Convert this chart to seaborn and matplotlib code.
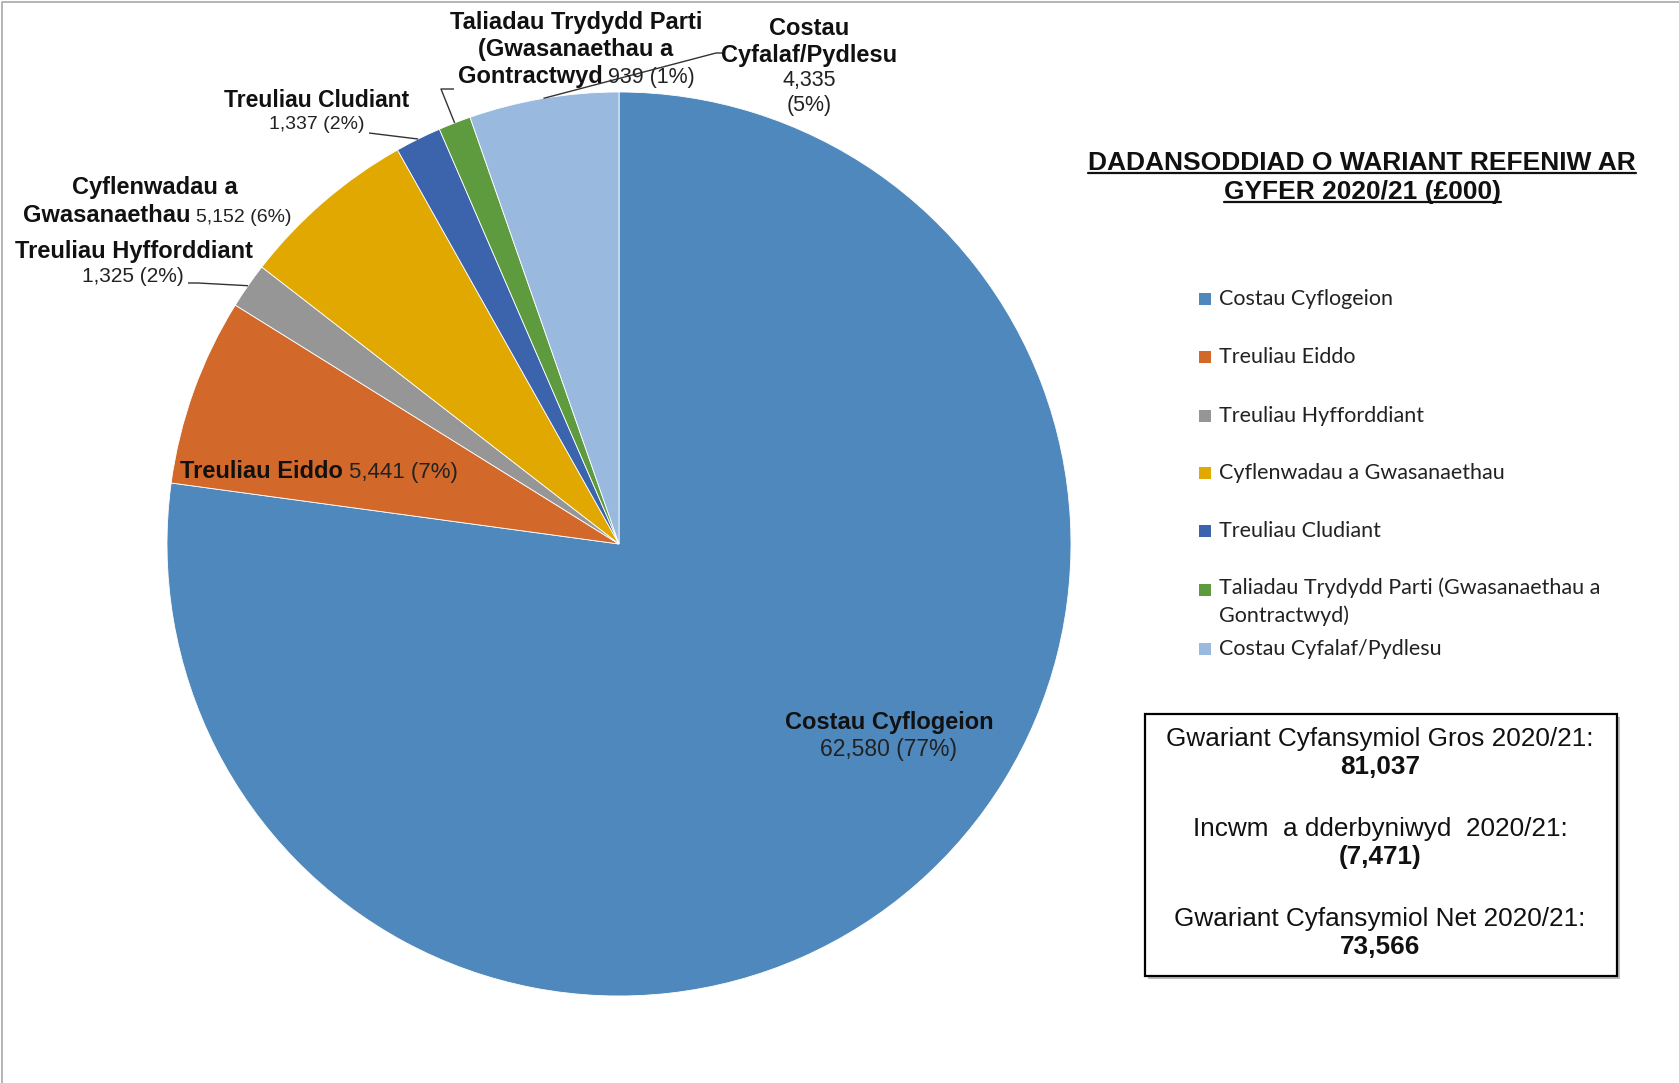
import matplotlib
matplotlib.use("Agg")
import matplotlib.pyplot as plt
import seaborn as sns
import numpy as np
from matplotlib.patches import Rectangle

# Revenue expenditure 2020/21 (£000)
categories = ["Costau Cyflogeion", "Treuliau Eiddo", "Treuliau Hyfforddiant",
              "Cyflenwadau a Gwasanaethau", "Treuliau Cludiant",
              "Taliadau Trydydd Parti (Gwasanaethau a Gontractwyd)",
              "Costau Cyfalaf/Pydlesu"]
values = [62580, 5441, 1325, 5152, 1337, 939, 4335]
colors = ["#4F88BD", "#D2692B", "#969696", "#E0A800", "#3B64AD", "#5E9B3E", "#99B9DF"]
legend_labels = ["Costau Cyflogeion", "Treuliau Eiddo", "Treuliau Hyfforddiant",
                 "Cyflenwadau a Gwasanaethau", "Treuliau Cludiant",
                 "Taliadau Trydydd Parti (Gwasanaethau a\nGontractwyd)",
                 "Costau Cyfalaf/Pydlesu"]
title_lines = ["DADANSODDIAD O WARIANT REFENIW AR", "GYFER 2020/21 (£000)"]
gross_total = 81037
income_total = 7471
net_total = 73566

sns.set_theme(style="white")
plt.rcParams["font.family"] = ["Liberation Sans", "DejaVu Sans"]

W, H = 1679, 1083
CX, CY, R = 619, 544, 452

fig = plt.figure(figsize=(W / 100, H / 100), dpi=100)
fig.patch.set_facecolor("white")

ax = fig.add_axes([(CX - R) / W, 1 - (CY + R) / H, 2 * R / W, 2 * R / H])
wedges, _ = ax.pie(values, colors=colors, startangle=90, counterclock=False,
                   wedgeprops=dict(edgecolor="white", linewidth=0.6))
ax.set_xlim(-1, 1)
ax.set_ylim(-1, 1)
ax.set_aspect("equal")

# overlay axes in pixel coordinates for labels, legend and box
ov = fig.add_axes([0, 0, 1, 1])
ov.set_xlim(0, W)
ov.set_ylim(H, 0)
ov.axis("off")
ov.patch.set_alpha(0)

total = sum(values)
nums = [f"{v:,}" for v in values]
pcts = [f"({round(100 * v / total)}%)" for v in values]


def anchor(i, r=1.0):
    w = wedges[i]
    a = np.deg2rad((w.theta1 + w.theta2) / 2)
    return CX + R * r * np.cos(a), CY - R * r * np.sin(a)


def bold(x, y, s, size=17, ha="center"):
    ov.text(x, y, s, fontsize=size, fontweight="bold", ha=ha, va="baseline", color="#111111")


def reg(x, y, s, size=15, ha="center"):
    ov.text(x, y, s, fontsize=size, ha=ha, va="baseline", color="#222222")


def leader(points, i):
    xs = [p[0] for p in points] + [anchor(i)[0]]
    ys = [p[1] for p in points] + [anchor(i)[1]]
    ov.plot(xs, ys, color="#333333", lw=1.0, solid_capstyle="butt")


# Costau Cyflogeion (inside)
bold(889, 729, "Costau Cyflogeion")
reg(889, 756, f"{nums[0]} {pcts[0]}", size=16.5)

# Treuliau Eiddo (inside its slice)
bold(343, 478, "Treuliau Eiddo", ha="right")
reg(349, 478, f"{nums[1]} {pcts[1]}", size=16, ha="left")

# Treuliau Hyfforddiant
bold(134, 258, "Treuliau Hyfforddiant")
reg(133, 282, f"{nums[2]} {pcts[2]}", size=15)
leader([(188, 283), (198, 283)], 2)

# Cyflenwadau a Gwasanaethau
bold(155, 194, "Cyflenwadau a")
bold(191, 222, "Gwasanaethau", ha="right")
reg(196, 222, f"{nums[3]} {pcts[3]}", size=14, ha="left")

# Treuliau Cludiant
bold(317, 107, "Treuliau Cludiant", size=16.5)
reg(317, 129, f"{nums[4]} {pcts[4]}", size=14)
leader([(369, 133)], 4)

# Taliadau Trydydd Parti
bold(576, 29, "Taliadau Trydydd Parti")
bold(576, 56, "(Gwasanaethau a")
bold(603, 83, "Gontractwyd", ha="right")
reg(608, 83, f"{nums[5]} {pcts[5]}", size=15.5, ha="left")
leader([(454, 89), (441, 89)], 5)

# Costau Cyfalaf/Pydlesu
bold(809, 35, "Costau")
bold(809, 62, "Cyfalaf/Pydlesu")
reg(809, 86, nums[6], size=15.5)
reg(809, 111, pcts[6], size=15.5)
leader([(723, 53), (716, 53)], 6)

# title with underline
title_texts = []
for line, yb in zip(title_lines, [170, 199]):
    t = ov.text(1362, yb, line, fontsize=19, fontweight="bold", ha="center",
                va="baseline", color="#111111")
    title_texts.append((t, yb))

# legend
leg_y = [299, 357, 416, 473, 531, 590, 649]
for i, (lab, y) in enumerate(zip(legend_labels, leg_y)):
    ov.add_patch(Rectangle((1199, y - 6), 12, 12, facecolor=wedges[i].get_facecolor(),
                           edgecolor="none"))
    if "\n" in lab:
        ov.text(1219, y - 13, lab, fontsize=15.5, family=["Lato", "DejaVu Sans"], ha="left",
                va="top", color="#222222", linespacing=1.45)
    else:
        ov.text(1219, y, lab, fontsize=15.5, family=["Lato", "DejaVu Sans"], ha="left",
                va="center", color="#222222")

# summary box
ov.add_patch(Rectangle((1148, 717), 472, 262, facecolor="#BBBBBB", edgecolor="none"))
ov.add_patch(Rectangle((1145, 714), 472, 262, facecolor="white", edgecolor="black", lw=1.6))
box_lines = [
    ("Gwariant Cyfansymiol Gros 2020/21:", False, 746),
    (f"{gross_total:,}", True, 774),
    ("Incwm  a dderbyniwyd  2020/21:", False, 836),
    (f"({income_total:,})", True, 864),
    ("Gwariant Cyfansymiol Net 2020/21:", False, 926),
    (f"{net_total:,}", True, 954),
]
for s, b, yb in box_lines:
    ov.text(1380, yb, s, fontsize=18.8, fontweight="bold" if b else "normal",
            ha="center", va="baseline", color="#111111")

# outer border (left and top)
ov.plot([2, 2, W], [H, 2, 2], color="#A8A8A8", lw=1.2)

fig.canvas.draw()
renderer = fig.canvas.get_renderer()
for t, yb in title_texts:
    bb = t.get_window_extent(renderer)
    ov.plot([bb.x0, bb.x1], [yb + 3, yb + 3], color="#111111", lw=1.6)

fig.savefig("out.png", dpi=100, facecolor="white")
